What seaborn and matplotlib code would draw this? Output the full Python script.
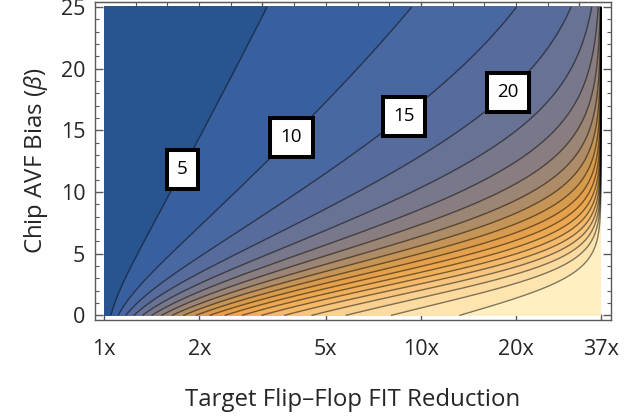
import numpy as np
import matplotlib
matplotlib.use("Agg")
import matplotlib.pyplot as plt
from matplotlib.ticker import FixedLocator, NullLocator, NullFormatter, FixedFormatter
import seaborn as sns

# Hardened flip-flops cut FIT by this factor; protecting every flop gives the ceiling.
HARDENING_LIMIT = 37.0

# Contoured quantity: percent of flip-flops that must be hardened.
FILL_LEVELS = [0, 5, 10, 15, 20, 25, 30, 35, 40, 45, 50, 55, 60, 65, 70, 75, 80, 85, 90, 95, 100]
LINE_LEVELS = [5, 10, 15, 20, 25, 30, 35, 40, 45, 50, 55, 60, 65, 70, 75, 80, 85, 90, 95]
LABEL_LEVELS = [5, 10, 15, 20]
LABEL_SPOTS_R = [1.74, 3.8, 8.8, 18.8]
LABEL_SPOTS_BETA = [11.85, 14.5, 16.2, 18.2]

X_TICKS = [1, 2, 5, 10, 20, 37]
X_TICK_LABELS = ["1x", "2x", "5x", "10x", "20x", "37x"]
Y_TICKS = [0, 5, 10, 15, 20, 25]
TOP_MAJOR_DECADES = [0.5, 1.0, 1.5]
TOP_MINOR_DECADES = [0.1, 0.2, 0.3, 0.4, 0.6, 0.7, 0.8, 0.9, 1.1, 1.2, 1.3, 1.4]

BAND_ANCHORS = ["#20508a", "#4265a5", "#5f6f98", "#7f7b88", "#a4886f", "#d0984f",
                "#eaa34a", "#f2b461", "#f8ca85", "#fde0a8", "#fff3c9"]

sns.set_style("white")
plt.rcParams["font.family"] = ["Open Sans", "DejaVu Sans"]
plt.rcParams["mathtext.fontset"] = "custom"
plt.rcParams["mathtext.it"] = "Open Sans:italic"
plt.rcParams["mathtext.rm"] = "Open Sans"


def protected_percent(reduction, beta):
    """Share of flops to harden when AVF decays exponentially (bias beta) across ranked flops."""
    covered = (1.0 - 1.0 / reduction) / (1.0 - 1.0 / HARDENING_LIMIT)
    frac = -np.log1p(-covered * (-np.expm1(-beta))) / beta
    return 100.0 * frac


r_grid = np.unique(np.concatenate([
    np.geomspace(1.0, 36.0, 700),
    HARDENING_LIMIT - np.geomspace(1.0, 1e-13, 500),
    [HARDENING_LIMIT],
]))
b_grid = np.linspace(0.0, 25.0, 600)
b_grid[0] = 1e-9
R, B = np.meshgrid(r_grid, b_grid)
F = np.clip(protected_percent(R, B), 0, 100)

cmap = sns.blend_palette(BAND_ANCHORS, as_cmap=True)

fig = plt.figure(figsize=(6.35, 4.18), dpi=100)
ax = fig.add_axes([95 / 635, 1 - 320 / 418, 516 / 635, 318 / 418])

ax.contourf(R, B, F, levels=FILL_LEVELS, cmap=cmap, vmin=0, vmax=100)
cs = ax.contour(R, B, F, levels=LINE_LEVELS, colors="black", alpha=0.5, linewidths=1.0)
labels = ax.clabel(cs, levels=LABEL_LEVELS, manual=list(zip(LABEL_SPOTS_R, LABEL_SPOTS_BETA)),
                   inline=False, fmt="%d", fontsize=13.5, colors="black")
for t in labels:
    t.set_rotation(0)
    t.set_alpha(1)
    t.set_color("black")
    t.set_bbox(dict(boxstyle="square,pad=0.56", facecolor="white", edgecolor="black", linewidth=2.9))
    t.set_zorder(5)

ax.set_xscale("log")
ax.set_xlim(10 ** -0.0284, HARDENING_LIMIT * 10 ** 0.0316)
ax.set_ylim(-0.37, 25.4)

ax.xaxis.set_major_locator(FixedLocator(X_TICKS))
ax.xaxis.set_major_formatter(FixedFormatter(X_TICK_LABELS))
ax.xaxis.set_minor_locator(NullLocator())
ax.yaxis.set_major_locator(FixedLocator(Y_TICKS))
ax.yaxis.set_minor_locator(FixedLocator(range(0, 26)))

frame_col = "#5a5a5a"
for s in ax.spines.values():
    s.set_color(frame_col)
    s.set_linewidth(1.0)

ax.tick_params(axis="x", which="major", direction="in", length=4, width=1, color=frame_col,
               labelsize=15.5, pad=14, top=False, bottom=True)
ax.tick_params(axis="y", which="major", direction="in", length=6, width=1, color=frame_col,
               labelsize=15.5, pad=7, left=True, right=True)
ax.tick_params(axis="y", which="minor", direction="in", length=3.2, width=0.8, color=frame_col,
               left=True, right=True)

top = ax.secondary_xaxis("top")
top.xaxis.set_major_locator(FixedLocator([10 ** d for d in TOP_MAJOR_DECADES]))
top.xaxis.set_minor_locator(FixedLocator([10 ** d for d in TOP_MINOR_DECADES]))
top.xaxis.set_major_formatter(NullFormatter())
top.xaxis.set_minor_formatter(NullFormatter())
top.tick_params(which="major", direction="in", length=5, width=1, color=frame_col)
top.tick_params(which="minor", direction="in", length=2.6, width=0.8, color=frame_col)
top.spines["top"].set_color(frame_col)

ax.set_xlabel("Target Flip\u2013Flop FIT Reduction", fontsize=17.3, labelpad=20)
ax.set_ylabel("Chip AVF Bias ($\\mathit{\\beta}$)", fontsize=17.3, labelpad=8)

fig.savefig("out.png", dpi=100)
